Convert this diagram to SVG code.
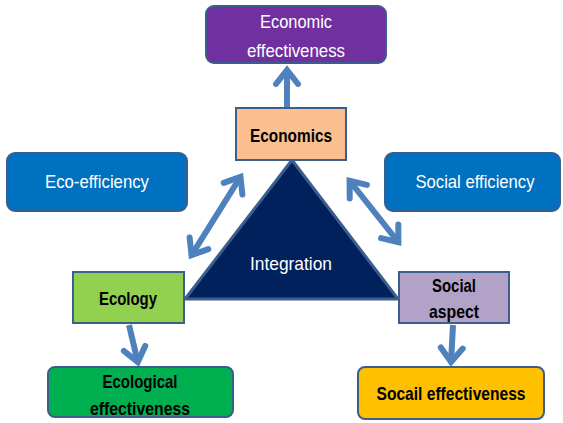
<svg xmlns="http://www.w3.org/2000/svg" width="563" height="423" viewBox="0 0 563 423">
<defs>
<style>
.box{stroke:#3B5E8C;stroke-width:2}
.wt{font-family:"Liberation Sans",Arial,sans-serif;fill:#ffffff;font-size:19px;text-anchor:middle}
.bt{font-family:"Liberation Sans",Arial,sans-serif;fill:#000000;font-size:19px;font-weight:bold;text-anchor:middle}
.arr{stroke:#4F81BD;stroke-width:6;fill:none}
</style>
<marker id="ah" markerUnits="userSpaceOnUse" markerWidth="40" markerHeight="40" refX="0" refY="0" orient="auto-start-reverse" overflow="visible" viewBox="-20 -20 40 40">
<path d="M-15,-11 L-1,0 L-15,11" fill="none" stroke="#4F81BD" stroke-width="6" stroke-linecap="round" stroke-linejoin="miter"/>
</marker>
</defs>
<rect width="563" height="423" fill="#ffffff"/>

<g id="connectors">
<line class="arr" x1="287" y1="108" x2="287" y2="69" marker-end="url(#ah)"/>
<line class="arr" x1="191" y1="256" x2="241" y2="176" marker-start="url(#ah)" marker-end="url(#ah)"/>
<line class="arr" x1="349" y1="180" x2="399" y2="243" marker-start="url(#ah)" marker-end="url(#ah)"/>
<line class="arr" x1="129" y1="325" x2="138" y2="363" marker-end="url(#ah)"/>
<line class="arr" x1="453" y1="325" x2="451" y2="363" marker-end="url(#ah)"/>
</g>

<g id="integration">
<polygon points="292,160 185,299 398,299" fill="#00215C" stroke="#3B5E8C" stroke-width="3" stroke-linejoin="miter"/>
<text class="wt" x="291" y="270" textLength="82" lengthAdjust="spacingAndGlyphs">Integration</text>
</g>

<g id="economic-effectiveness">
<rect class="box" x="206" y="6" width="180" height="57" rx="8" fill="#7030A0"/>
<text class="wt" x="296" y="28" font-size="20" textLength="72" lengthAdjust="spacingAndGlyphs">Economic</text>
<text class="wt" x="296" y="57" font-size="20" textLength="98" lengthAdjust="spacingAndGlyphs">effectiveness</text>
</g>

<g id="economics">
<rect class="box" x="236" y="108" width="110" height="52" fill="#FAC090"/>
<text class="bt" x="291" y="142" font-size="20" textLength="82" lengthAdjust="spacingAndGlyphs">Economics</text>
</g>

<g id="eco-efficiency">
<rect class="box" x="7" y="153" width="180" height="58" rx="8" fill="#0070C0"/>
<text class="wt" x="97" y="188" textLength="104" lengthAdjust="spacingAndGlyphs">Eco-efficiency</text>
</g>

<g id="social-efficiency">
<rect class="box" x="385" y="153" width="175" height="58" rx="8" fill="#0070C0"/>
<text class="wt" x="475" y="188" textLength="119" lengthAdjust="spacingAndGlyphs">Social efficiency</text>
</g>

<g id="ecology">
<rect class="box" x="73" y="272" width="111" height="51" fill="#92D050"/>
<text class="bt" x="128" y="305" textLength="58" lengthAdjust="spacingAndGlyphs">Ecology</text>
</g>

<g id="social-aspect">
<rect class="box" x="399" y="272" width="110" height="51" fill="#B3A2C7"/>
<text class="bt" x="454" y="292" textLength="44" lengthAdjust="spacingAndGlyphs">Social</text>
<text class="bt" x="454" y="318" textLength="50" lengthAdjust="spacingAndGlyphs">aspect</text>
</g>

<g id="ecological-effectiveness">
<rect class="box" x="48" y="367" width="185" height="50" rx="7" fill="#00B050"/>
<text class="bt" x="140" y="388" textLength="75" lengthAdjust="spacingAndGlyphs">Ecological</text>
<text class="bt" x="140" y="415" textLength="100" lengthAdjust="spacingAndGlyphs">effectiveness</text>
</g>

<g id="social-effectiveness">
<rect class="box" x="358" y="367" width="186" height="52" rx="7" fill="#FFC000"/>
<text class="bt" x="451" y="400" textLength="149" lengthAdjust="spacingAndGlyphs">Socail effectiveness</text>
</g>
</svg>
